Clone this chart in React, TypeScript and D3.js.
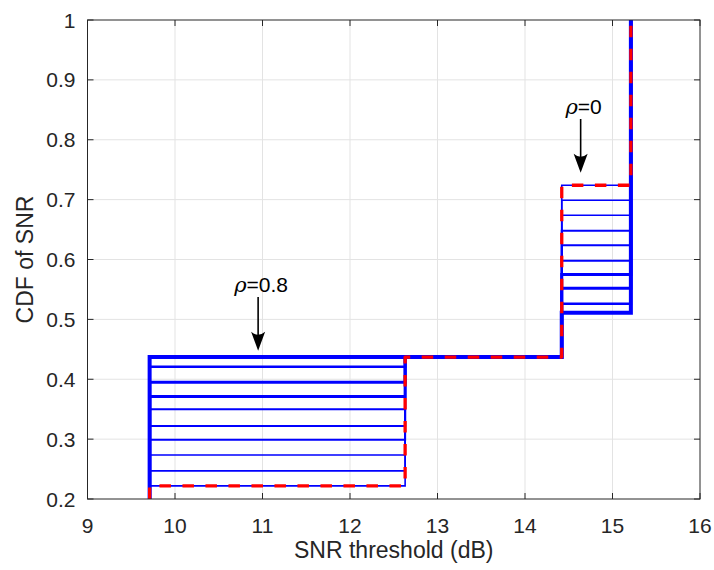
import React from "react";
import * as d3 from "d3";

const xTicks = [9, 10, 11, 12, 13, 14, 15, 16];
const yTicks = [0.2, 0.3, 0.4, 0.5, 0.6, 0.7, 0.8, 0.9, 1];

// SNR thresholds (dB) where the CDF steps
const stepX = [9.71, 12.63, 14.42, 15.21];
// CDF level between 12.63 and 14.42 dB (shared by all curves)
const midLevel = 0.437;
// first plateau level of each curve (rho = 0.8 ... rho = 0)
const leftLevels = [0.437, 0.421, 0.395, 0.371, 0.35, 0.322, 0.299, 0.2735, 0.247, 0.222];
// third plateau level of each curve (rho = 0.8 ... rho = 0)
const rightLevels = [0.511, 0.526, 0.552, 0.575, 0.598, 0.624, 0.648, 0.674, 0.699, 0.724];

const annotations = [
  { label: "0.8", x: 10.95, tipY: 0.4477, tailY: 0.5374 },
  { label: "0", x: 14.636, tipY: 0.745, tailY: 0.8347 },
];

// styles (not data)
const curveWidths = [4, 2.5, 3, 3, 2, 2, 2, 1.6, 1.6, 1.6];

const W = 714;
const H = 570;
const L = 87.5;
const R = 700;
const T = 20;
const B = 499;
const FONT = "'Liberation Sans', Arial, Helvetica, sans-serif";
const AX = "#262626";

export default function App() {
  const x = d3.scaleLinear().domain([9, 16]).range([L, R]);
  const y = d3.scaleLinear().domain([0.2, 1]).range([B, T]);
  const line = d3
    .line<[number, number]>()
    .x((d) => x(d[0]))
    .y((d) => y(d[1]));

  const curvePts = (i: number): [number, number][] => [
    [stepX[0], 0.2],
    [stepX[0], leftLevels[i]],
    [stepX[1], leftLevels[i]],
    [stepX[1], midLevel],
    [stepX[2], midLevel],
    [stepX[2], rightLevels[i]],
    [stepX[3], rightLevels[i]],
    [stepX[3], 1],
  ];
  const last = leftLevels.length - 1;
  const tick = 6;

  return (
    <svg
      width={W}
      height={H}
      style={{ position: "absolute", left: 0, top: 0, background: "#fff" }}
      fontFamily={FONT}
    >
      <rect x={0} y={0} width={W} height={H} fill="#fff" />
      <defs>
        <clipPath id="plot">
          <rect x={L} y={T} width={R - L} height={B - T} />
        </clipPath>
      </defs>
      {/* grid */}
      <g stroke="#e3e3e3" strokeWidth={1}>
        {xTicks.slice(1, -1).map((t) => (
          <line key={"gx" + t} x1={x(t)} x2={x(t)} y1={T} y2={B} />
        ))}
        {yTicks.slice(1, -1).map((t) => (
          <line key={"gy" + t} x1={L} x2={R} y1={y(t)} y2={y(t)} />
        ))}
      </g>
      {/* curves */}
      <g clipPath="url(#plot)" fill="none">
        {leftLevels.map((_, i) => (
          <path
            key={"c" + i}
            d={line(curvePts(i)) || ""}
            stroke="#0000ff"
            strokeWidth={curveWidths[i]}
            strokeLinejoin="miter"
          />
        ))}
        <path
          d={line(curvePts(last)) || ""}
          stroke="#ff0000"
          strokeWidth={3.3}
          strokeDasharray="11.5 11.5"
          strokeLinejoin="round"
        />
      </g>
      {/* axes box */}
      <g stroke={AX} strokeWidth={1} fill="none">
        <rect x={L} y={T} width={R - L} height={B - T} />
        {xTicks.map((t) => (
          <g key={"tx" + t}>
            <line x1={x(t)} x2={x(t)} y1={B} y2={B - tick} />
            <line x1={x(t)} x2={x(t)} y1={T} y2={T + tick} />
          </g>
        ))}
        {yTicks.map((t) => (
          <g key={"ty" + t}>
            <line x1={L} x2={L + tick} y1={y(t)} y2={y(t)} />
            <line x1={R} x2={R - tick} y1={y(t)} y2={y(t)} />
          </g>
        ))}
      </g>
      {/* tick labels */}
      <g fill={AX} fontSize={21}>
        {xTicks.map((t) => (
          <text key={"lx" + t} x={x(t)} y={533} textAnchor="middle">
            {t}
          </text>
        ))}
        {yTicks.map((t) => (
          <text key={"ly" + t} x={L - 12} y={y(t)} dy="0.36em" textAnchor="end">
            {t}
          </text>
        ))}
      </g>
      {/* axis labels */}
      <text x={(L + R) / 2} y={558} textAnchor="middle" fontSize={23} fill={AX}>
        SNR threshold (dB)
      </text>
      <text
        transform={`translate(33, ${(T + B) / 2}) rotate(-90)`}
        textAnchor="middle"
        fontSize={23}
        fill={AX}
      >
        CDF of SNR
      </text>
      {/* annotations */}
      {annotations.map((a) => {
        const ax = x(a.x);
        const tip = y(a.tipY);
        const tail = y(a.tailY);
        const hl = 19;
        const hw = 7;
        return (
          <g key={a.label}>
            <line x1={ax} x2={ax} y1={tail} y2={tip - 8} stroke="#000" strokeWidth={1.6} />
            <path
              d={`M${ax},${tip} L${ax - hw},${tip - hl} Q${ax},${tip - hl + 6} ${ax + hw},${tip - hl} Z`}
              fill="#000"
            />
            <text x={ax + 3} y={tail - 5} textAnchor="middle" fontSize={21} fill="#000">
              <tspan fontStyle="italic" fontFamily="'DejaVu Serif', 'Liberation Serif', serif">ρ</tspan>
              <tspan>={a.label}</tspan>
            </text>
          </g>
        );
      })}
    </svg>
  );
}
